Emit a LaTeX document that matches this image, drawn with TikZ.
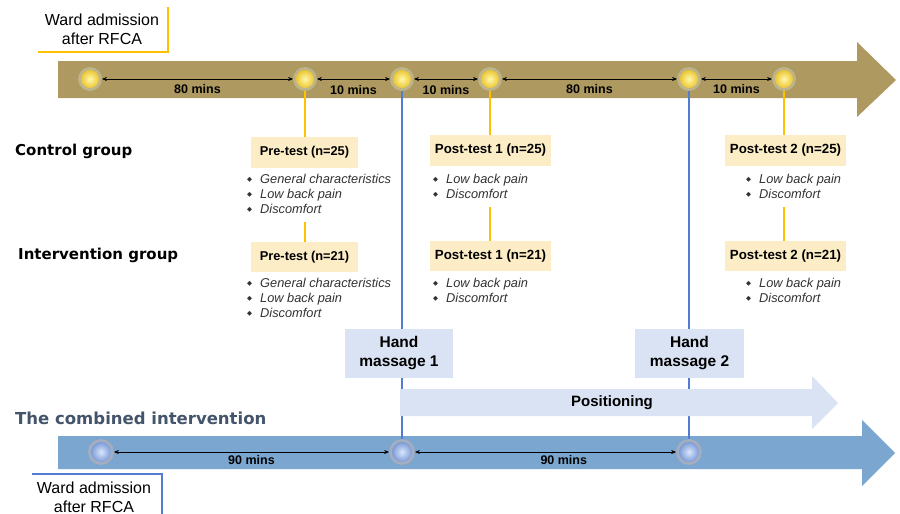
\documentclass[tikz,border=0pt]{standalone}
\usepackage{fontspec}
\setmainfont{Liberation Sans}
\newfontfamily\dvs{DejaVu Sans}
\usetikzlibrary{arrows.meta}
\definecolor{olive}{RGB}{174,154,96}
\definecolor{bandblue}{RGB}{123,166,208}
\definecolor{lightblue}{RGB}{218,227,243}
\definecolor{cream}{RGB}{252,237,198}
\definecolor{orng}{RGB}{255,192,0}
\definecolor{lineblue}{RGB}{80,125,210}
\definecolor{slate}{RGB}{68,84,106}
\definecolor{txtgray}{RGB}{50,50,50}
\pgfdeclarelayer{bands}
\pgfdeclarelayer{lines}
\pgfsetlayers{bands,lines,main}
\newcommand{\bul}{\makebox[13pt][l]{\raisebox{1.5pt}{\dvs\fontsize{6.5}{7}\selectfont ◆}}}
\tikzset{
  tcirc/.style={circle, minimum size=21pt, inner sep=0pt, draw={rgb,255:red,190;green,180;blue,140}, line width=2.8pt, inner color={rgb,255:red,255;green,248;blue,170}, outer color={rgb,255:red,232;green,190;blue,30}},
  bcirc/.style={circle, minimum size=23pt, inner sep=0pt, draw={rgb,255:red,165;green,173;blue,192}, line width=2.8pt, inner color={rgb,255:red,218;green,230;blue,252}, outer color={rgb,255:red,110;green,145;blue,210}},
  span/.style={{Stealth[length=5pt,width=4pt]}-{Stealth[length=5pt,width=4pt]}, line width=0.6pt, black},
  mins/.style={font=\bfseries\fontsize{12.5}{14}\selectfont, inner sep=1pt},
  testbox/.style={fill=cream, inner sep=0pt, font=\bfseries\fontsize{12.8}{14}\selectfont},
  handbox/.style={fill=lightblue, inner sep=0pt, minimum width=108pt, minimum height=49pt, align=center, font=\bfseries\fontsize{15.5}{19}\selectfont},
  blist/.style={anchor=north west, inner sep=0pt, align=left, text=txtgray, font=\itshape\fontsize{12.8}{15}\selectfont},
  grp/.style={anchor=west, inner sep=0pt, font=\dvs\bfseries\fontsize{15}{18}\selectfont},
  ward/.style={align=center, inner sep=0pt, font=\fontsize{16}{19}\selectfont},
  oline/.style={orng, line width=1.5pt},
  bline/.style={lineblue, line width=1.3pt}
}
\begin{document}
\begin{tikzpicture}[x=1pt,y=-1pt]
\useasboundingbox (0,0) rectangle (900,514);
% bands
\begin{pgfonlayer}{bands}
\fill[white] (0,0) rectangle (900,514);
\fill[olive] (58,61) -- (857,61) -- (857,42) -- (896,80) -- (857,117) -- (857,98) -- (58,98) -- cycle;
\fill[bandblue] (58,436) -- (862,436) -- (862,420) -- (895,453) -- (862,486) -- (862,469) -- (58,469) -- cycle;
\end{pgfonlayer}
% ward admission boxes
\node[ward] (w1) at (102,29.5) {Ward admission\\after RFCA};
\draw[orng, line width=1.3pt] (38,52) -- (168,52) -- (168,7);
\node[ward] (w2) at (94,497) {Ward admission\\after RFCA};
\draw[lineblue, line width=1.3pt] (32,474) -- (162,474) -- (162,516);
% top circles
\node[tcirc] (t1) at (90,79) {};
\node[tcirc] (t2) at (305,79) {};
\node[tcirc] (t3) at (402,79) {};
\node[tcirc] (t4) at (490,79) {};
\node[tcirc] (t5) at (689,79) {};
\node[tcirc] (t6) at (784,79) {};
\draw[span] (t1) -- (t2) node[mins, midway, below=4pt] (m1) {80 mins};
\draw[span] (t2) -- (t3) node[mins, midway, below=5pt] (m2) {10 mins};
\draw[span] (t3) -- (t4) node[mins, midway, below=5pt] (m3) {10 mins};
\draw[span] (t4) -- (t5) node[mins, midway, below=4pt] (m4) {80 mins};
\draw[span] (t5) -- (t6) node[mins, midway, below=4pt] (m5) {10 mins};
% bottom circles
\node[bcirc] (b1) at (101,452) {};
\node[bcirc] (b2) at (402,452) {};
\node[bcirc] (b3) at (689,452) {};
\draw[span] (b1) -- (b2) node[mins, midway, below=2pt] (m6) {90 mins};
\draw[span] (b2) -- (b3) node[mins, pos=0.57, below=2pt] (m7) {90 mins};
% group labels
\node[grp] (cg) at (15,151) {Control group};
\node[grp] (ig) at (18,255) {Intervention group};
\node[anchor=west, inner sep=0pt, text=slate, font=\dvs\bfseries\fontsize{16.5}{19}\selectfont] (ci) at (15,418) {The combined intervention};
% test boxes
\node[testbox, minimum width=107pt, minimum height=31pt] (pre1) at (304.5,152.5) {Pre-test (n=25)};
\node[testbox, minimum width=107pt, minimum height=30pt] (pre2) at (304.5,257) {Pre-test (n=21)};
\node[testbox, minimum width=121pt, minimum height=31pt, font=\bfseries\fontsize{13.3}{14}\selectfont] (pa1) at (490.5,150.5) {Post-test 1 (n=25)};
\node[testbox, minimum width=121pt, minimum height=30pt, font=\bfseries\fontsize{13.3}{14}\selectfont] (pa2) at (490.5,256) {Post-test 1 (n=21)};
\node[testbox, minimum width=121pt, minimum height=31pt, font=\bfseries\fontsize{13.3}{14}\selectfont] (pb1) at (785.5,150.5) {Post-test 2 (n=25)};
\node[testbox, minimum width=121pt, minimum height=30pt, font=\bfseries\fontsize{13.3}{14}\selectfont] (pb2) at (785.5,256) {Post-test 2 (n=21)};
% bullet lists
\node[blist] (l1) at (247,174) {\bul General characteristics\\\bul Low back pain\\\bul Discomfort};
\node[blist] (l2) at (247,278) {\bul General characteristics\\\bul Low back pain\\\bul Discomfort};
\node[blist] (l3) at (433,174) {\bul Low back pain\\\bul Discomfort};
\node[blist] (l4) at (433,278) {\bul Low back pain\\\bul Discomfort};
\node[blist] (l5) at (746,174) {\bul Low back pain\\\bul Discomfort};
\node[blist] (l6) at (746,278) {\bul Low back pain\\\bul Discomfort};
% hand massage boxes
\node[handbox] (h1) at (399,353.5) {Hand\\massage 1};
\node[handbox, minimum width=109pt] (h2) at (689.5,353.5) {Hand\\massage 2};
% positioning arrow
\fill[lightblue] (400,389) -- (812,389) -- (812,376) -- (838,403) -- (812,429) -- (812,416) -- (400,416) -- cycle;
\node[font=\bfseries\fontsize{15}{18}\selectfont, inner sep=0pt] (pos) at (612,403) {Positioning};
% connector lines
\coordinate (c1) at (305,222);
\coordinate (c2) at (490,207);
\coordinate (c3) at (784,207);
\begin{pgfonlayer}{lines}
\draw[oline] (t2.south) -- (t2.south |- pre1.north);
\draw[oline] (c1) -- (c1 |- pre2.north);
\draw[oline] (t4.south) -- (t4.south |- pa1.north);
\draw[oline] (c2) -- (c2 |- pa2.north);
\draw[oline] (t6.south) -- (t6.south |- pb1.north);
\draw[oline] (c3) -- (c3 |- pb2.north);
\draw[bline] (t3.south) -- (b2.north);
\draw[bline] (t5.south) -- (b3.north);
\end{pgfonlayer}
\end{tikzpicture}
\end{document}
